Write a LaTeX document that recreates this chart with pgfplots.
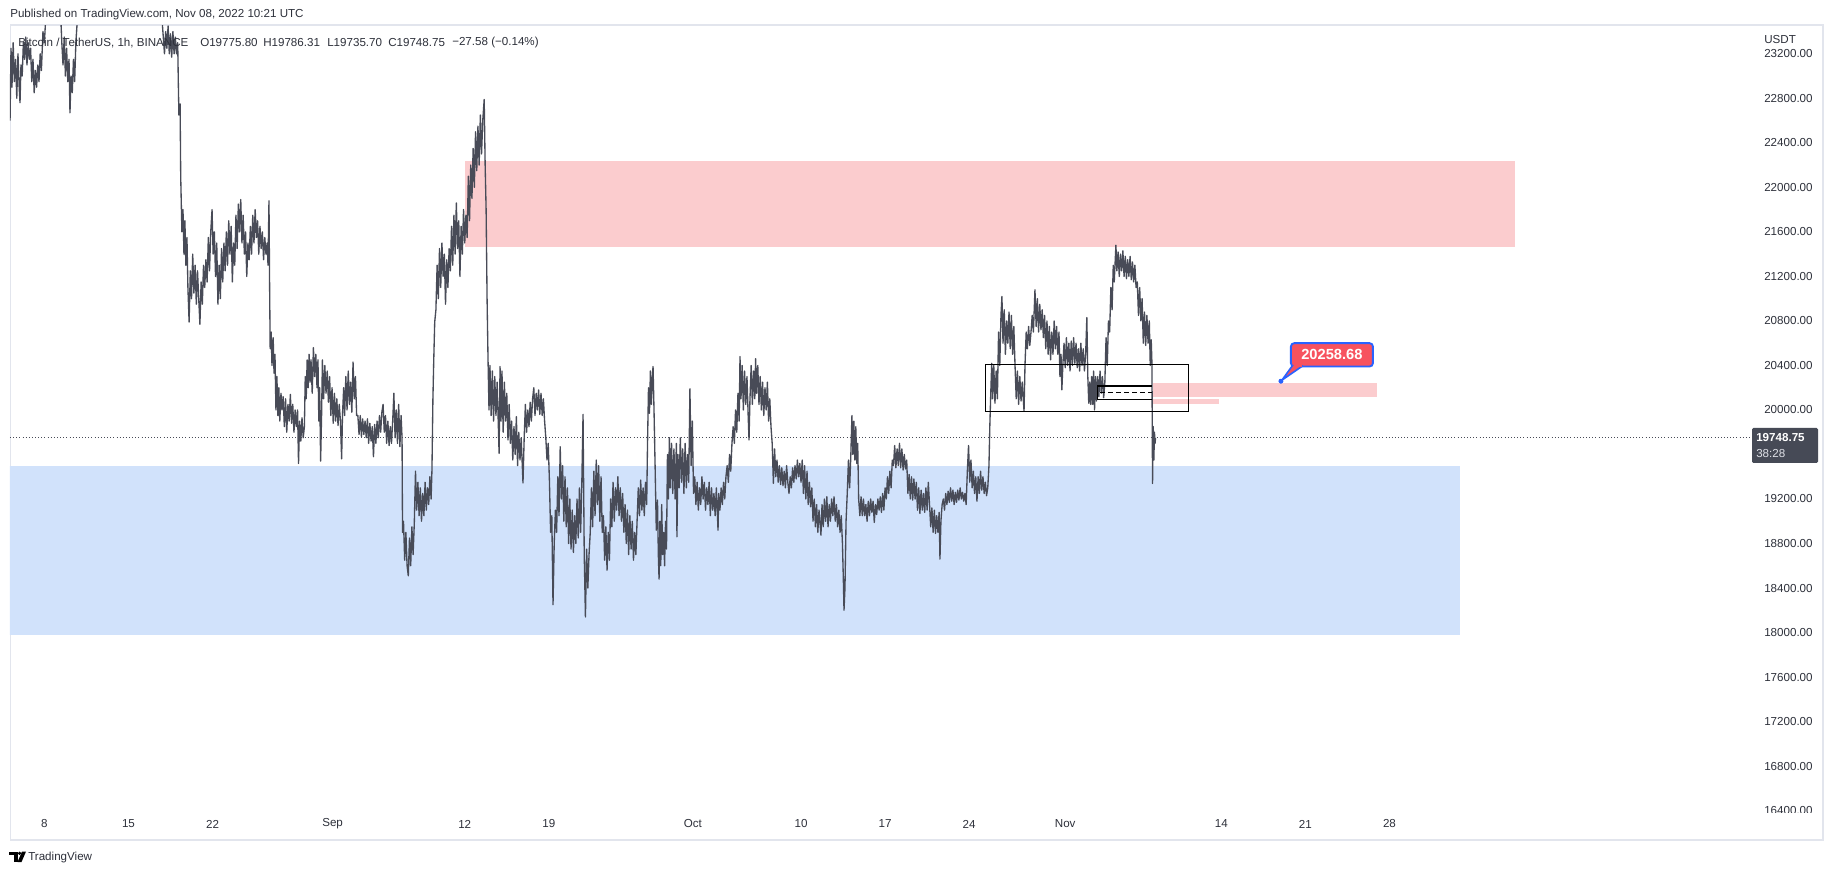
\documentclass[border=0pt]{standalone}
\usepackage{fontspec}
\setmainfont{Liberation Sans}
\usepackage{pgfplots}
\pgfplotsset{compat=1.18}
\definecolor{candle}{RGB}{72,75,87}
\definecolor{zblue}{RGB}{209,226,251}
\definecolor{zred}{RGB}{251,204,206}
\definecolor{lblred}{RGB}{247,82,95}
\definecolor{tvblue}{RGB}{41,98,255}
\definecolor{txt}{RGB}{45,48,58}
\definecolor{framec}{RGB}{226,229,237}
\definecolor{plabel}{RGB}{70,74,86}
\newcommand{\tvfont}{\fontsize{8.7}{10}\selectfont}
\begin{document}
\begin{tikzpicture}
\useasboundingbox (0,0) rectangle (1375.5pt,656.25pt);
\fill[white] (0,0) rectangle (1375.5pt,656.25pt);
\begin{scope}[yshift=656.25pt, x=0.75pt, y=-0.75pt]
 \draw[framec, line width=1.2pt] (10.5,25) rectangle (1823,840);
 \node[anchor=west, inner sep=0pt, font=\tvfont, text=txt] at (10,15) {Published on TradingView.com, Nov 08, 2022 10:21 UTC};
\end{scope}
\begin{axis}[
  at={(7.5pt,47.25pt)}, anchor=south west, scale only axis,
  width=1305.75pt, height=589.5pt,
  xmin=-2.864, xmax=142.1, ymin=16387.5, ymax=23450,
  axis line style={draw=none}, major tick length=0pt,
  scaled x ticks=false, scaled y ticks=false,
  xtick={0,7,14,24,35,42,54,63,70,77,85,98,105,112},
  xticklabels={8,15,22,Sep,12,19,Oct,10,17,24,Nov,14,21,28},
  ytick={16400,16800,17200,17600,18000,18400,18800,19200,20000,20400,20800,21200,21600,22000,22400,22800,23200},
  yticklabels={16400.00,16800.00,17200.00,17600.00,18000.00,18400.00,18800.00,19200.00,20000.00,20400.00,20800.00,21200.00,21600.00,22000.00,22400.00,22800.00,23200.00},
  yticklabel pos=right,
  tick label style={font=\tvfont, text=txt},
  yticklabel style={anchor=west, inner sep=0pt, xshift=9.75pt},
  xticklabel style={anchor=center, inner sep=0pt, yshift=-9pt},
]
% zones
\addplot[draw=none, fill=zblue] coordinates {(-5,17977) (117.85,17977) (117.85,19497) (-5,19497)};
\addplot[draw=none, fill=zred] coordinates {(35.06,21466) (122.43,21466) (122.43,22233) (35.06,22233)};
\addplot[draw=none, fill=zred] coordinates {(92.29,20116) (110.97,20116) (110.97,20242) (92.29,20242)};
\addplot[draw=none, fill=zred] coordinates {(92.29,20054) (97.8,20054) (97.8,20096) (92.29,20096)};
% last price line
\addplot[candle, line width=0.7pt, dash pattern=on 0.75pt off 1.6pt] coordinates {(-2.864,19748.75) (142.1,19748.75)};
% price (1h candles, traced as low/high zigzag)
\addplot[candle, line width=1.0pt, line join=round] coordinates {
(-2.86,22600) (-2.78,23250) (-2.70,22900) (-2.60,23300) (-2.50,22950) (-2.40,23150) (-2.30,22800) (-2.20,23200) (-2.10,22900) (-2.03,22760)
(-1.95,23100) (-1.85,23000) (-1.75,23300) (-1.65,23150) (-1.55,23350) (-1.45,23100) (-1.35,23300) (-1.25,23150) (-1.15,23250) (-1.05,22950)
(-0.95,23150) (-0.85,22850) (-0.75,23050) (-0.65,22900) (-0.55,23100) (-0.45,22950) (-0.35,23200) (-0.25,23050) (-0.12,23400) (0.00,23300)
(0.15,23600) (0.30,23500) (0.47,23800) (0.70,24000) (0.90,23900) (1.10,24100) (1.30,23700) (1.45,23300) (1.55,23100) (1.65,23350)
(1.75,23000) (1.85,23250) (1.95,22950) (2.05,23150) (2.13,22670) (2.22,23000) (2.32,22850) (2.42,23150) (2.52,22950) (2.62,23300)
(2.71,23450) (2.80,23700) (3.00,24200) (3.30,24700) (3.60,24500) (4.00,24900) (4.50,24600) (5.00,24300) (5.50,24500) (6.00,24200)
(6.50,24800) (7.00,25000) (7.50,24300) (8.00,24000) (8.50,23800) (9.00,23900) (9.50,23600) (9.80,23500)
(9.90,23350) (10.00,23200) (10.10,23400) (10.20,23250) (10.30,23450) (10.40,23200) (10.50,23380) (10.60,23170) (10.70,23400) (10.80,23200)
(10.90,23350) (11.00,23200) (11.10,23300) (11.15,22950) (11.20,22650) (11.30,22750) (11.35,22100) (11.45,21600) (11.54,21800) (11.62,21400)
(11.70,21700) (11.78,21300) (11.87,21550) (11.95,21100) (12.05,20790) (12.15,21250) (12.25,21000) (12.35,21400) (12.45,21050) (12.55,21300)
(12.65,20950) (12.75,21250) (12.85,21000) (12.95,20770) (13.05,21150) (13.15,20950) (13.25,21300) (13.35,21100) (13.45,21350) (13.55,21150)
(13.65,21550) (13.75,21250) (13.85,21600) (13.96,21800) (14.05,21400) (14.15,21600) (14.25,21200) (14.35,21500) (14.45,20950) (14.55,21300)
(14.65,21000) (14.75,21450) (14.85,21150) (14.95,21500) (15.05,21250) (15.15,21600) (15.25,21300) (15.35,21700) (15.45,21400) (15.55,21650)
(15.65,21150) (15.75,21500) (15.85,21300) (15.95,21750) (16.05,21450) (16.15,21850) (16.25,21600) (16.35,21890) (16.45,21500) (16.55,21750)
(16.65,21400) (16.75,21600) (16.85,21200) (16.95,21500) (17.05,21350) (17.15,21650) (17.25,21400) (17.35,21750) (17.45,21500) (17.55,21800)
(17.65,21550) (17.75,21700) (17.85,21400) (17.95,21650) (18.05,21450) (18.15,21600) (18.25,21350) (18.35,21550) (18.45,21400) (18.55,21500)
(18.62,21300) (18.70,21880) (18.75,21150) (18.80,20550) (18.88,20700) (18.95,20400) (19.05,20650) (19.12,20330) (19.20,20500) (19.28,20000)
(19.36,20300) (19.44,19950) (19.52,20200) (19.60,19900) (19.70,20150) (19.78,20000) (19.88,20120) (19.98,19850) (20.08,20100) (20.18,19800)
(20.28,20050) (20.38,19900) (20.48,20140) (20.58,19880) (20.68,20050) (20.78,19800) (20.88,20000) (20.98,19850) (21.08,20000) (21.16,19520)
(21.25,19900) (21.35,19720) (21.45,19930) (21.55,19750) (21.65,19850) (21.72,20300) (21.80,20100) (21.88,20450) (21.96,20200) (22.04,20500)
(22.12,20250) (22.20,20450) (22.30,20150) (22.40,20560) (22.50,20300) (22.60,20500) (22.70,20200) (22.78,20450) (22.85,19900) (22.92,20200)
(23.00,19540) (23.08,19950) (23.15,20450) (23.25,20100) (23.35,20400) (23.45,20150) (23.55,20350) (23.65,20070) (23.75,20300) (23.85,19950)
(23.95,20200) (24.05,19880) (24.15,20150) (24.25,19900) (24.35,20100) (24.45,19860) (24.55,20050) (24.65,19900) (24.75,19560) (24.82,19950)
(24.92,20200) (25.00,19950) (25.10,20300) (25.20,20000) (25.30,20350) (25.40,20050) (25.50,20250) (25.60,19980) (25.70,20430) (25.80,20100)
(25.90,20300) (26.00,19950) (26.10,19950) (26.20,19780) (26.30,19950) (26.40,19760) (26.50,19920) (26.60,19780) (26.70,19900) (26.80,19750)
(26.90,19920) (27.00,19700) (27.10,19880) (27.20,19720) (27.30,19850) (27.40,19580) (27.50,19870) (27.60,19700) (27.70,19900) (27.80,19750)
(27.90,19950) (28.00,19800) (28.10,19980) (28.20,20050) (28.30,19800) (28.40,19950) (28.50,19700) (28.60,19900) (28.70,19680) (28.80,19850)
(28.90,19700) (29.00,19900) (29.10,20150) (29.20,19750) (29.30,20000) (29.40,19700) (29.50,20050) (29.60,19670) (29.70,19950) (29.78,19750)
(29.82,18900) (29.90,19000) (30.00,18650) (30.10,18900) (30.20,18600) (30.30,18510) (30.40,18850) (30.50,18600) (30.60,18950) (30.70,18700)
(30.80,18980) (30.90,19450) (31.00,19100) (31.10,19350) (31.20,19050) (31.30,19300) (31.40,19000) (31.50,19250) (31.60,19050) (31.70,19350)
(31.80,19100) (31.90,19300) (32.00,19150) (32.10,19400) (32.20,19200) (32.27,19460) (32.35,20100) (32.42,20450) (32.50,20790) (32.60,20900)
(32.70,21300) (32.80,21000) (32.90,21450) (33.00,21100) (33.10,21500) (33.20,21200) (33.30,21400) (33.40,20950) (33.50,21350) (33.60,21100)
(33.70,21450) (33.80,21250) (33.90,21650) (34.00,21300) (34.10,21750) (34.20,21400) (34.30,21860) (34.40,21450) (34.50,21700) (34.60,21200)
(34.70,21650) (34.80,21400) (34.90,21800) (35.00,21500) (35.10,21750) (35.20,21550) (35.30,22100) (35.40,21700) (35.50,22200) (35.60,21900)
(35.70,22350) (35.80,22000) (35.90,22500) (36.00,22150) (36.10,22550) (36.20,22200) (36.30,22650) (36.40,22300) (36.50,22600) (36.62,22790)
(36.70,22200) (36.78,21800) (36.86,21000) (36.94,20450) (37.02,20000) (37.10,20400) (37.20,19950) (37.30,20350) (37.40,19900) (37.50,20300)
(37.60,19950) (37.70,20250) (37.86,19610) (37.94,20390) (38.02,19900) (38.10,20350) (38.20,19800) (38.30,20250) (38.40,19900) (38.50,20150)
(38.60,19730) (38.70,20050) (38.80,19700) (38.90,19900) (39.00,19550) (39.10,19850) (39.20,19600) (39.30,19940) (39.40,19500) (39.50,19800)
(39.60,19550) (39.70,19750) (39.85,19345) (39.95,19750) (40.05,20050) (40.15,19800) (40.25,20000) (40.35,19850) (40.45,20070) (40.55,19900)
(40.65,20100) (40.75,20200) (40.85,19950) (40.95,20150) (41.05,20000) (41.15,20180) (41.25,19960) (41.35,20150) (41.45,19950) (41.55,20100)
(41.65,19900) (41.75,19750) (41.85,19550) (41.95,19700) (42.05,19370) (42.15,18900) (42.25,19050) (42.35,18250) (42.45,18800) (42.55,19100)
(42.65,18900) (42.75,19400) (42.85,19050) (42.95,19670) (43.05,19200) (43.15,19500) (43.25,19000) (43.35,19400) (43.45,18950) (43.55,19300)
(43.65,18800) (43.75,19200) (43.85,18750) (43.95,19100) (44.05,18720) (44.15,19050) (44.25,18800) (44.35,19200) (44.45,18850) (44.55,19300)
(44.65,18900) (44.75,19350) (44.85,19960) (44.95,18700) (45.05,18140) (45.15,18750) (45.25,18400) (45.35,18700) (45.45,18900) (45.55,19300)
(45.65,18950) (45.75,19450) (45.85,19050) (45.95,19550) (46.05,19150) (46.15,19500) (46.25,19000) (46.35,19400) (46.45,18900) (46.55,19050)
(46.65,18650) (46.75,18950) (46.85,18560) (46.95,18900) (47.05,18650) (47.15,19200) (47.25,18950) (47.35,19350) (47.45,19000) (47.55,19300)
(47.65,19100) (47.75,19400) (47.85,19050) (47.95,19300) (48.05,19000) (48.15,19250) (48.25,18900) (48.35,19150) (48.45,18800) (48.55,19100)
(48.65,18700) (48.75,19050) (48.85,18750) (48.95,19000) (49.05,18650) (49.15,18900) (49.25,18700) (49.35,19000) (49.45,19300) (49.55,19050)
(49.65,19370) (49.75,19100) (49.85,19300) (49.95,19050) (50.05,19350) (50.15,19150) (50.22,19700) (50.30,20200) (50.38,19970) (50.46,20350)
(50.54,20050) (50.62,20300) (50.68,20390) (50.76,20000) (50.85,19500) (50.95,18920) (51.05,19190) (51.12,18700) (51.18,18480) (51.25,19000)
(51.32,18600) (51.40,19150) (51.48,18700) (51.56,18900) (51.64,18600) (51.72,19000) (51.80,18750) (51.88,19600) (51.96,19200) (52.04,19750)
(52.12,19300) (52.22,19700) (52.32,19250) (52.42,19650) (52.52,19200) (52.62,19700) (52.67,18860) (52.75,19600) (52.85,19300) (52.95,19750)
(53.05,19350) (53.15,19650) (53.25,19250) (53.35,19700) (53.45,19300) (53.55,19600) (53.65,19350) (53.75,20190) (53.85,19500) (53.95,19900)
(54.05,19250) (54.15,19400) (54.25,19150) (54.35,19350) (54.45,19100) (54.55,19300) (54.65,19150) (54.75,19400) (54.85,19200) (54.95,19350)
(55.05,19100) (55.15,19300) (55.25,19150) (55.35,19350) (55.45,19050) (55.55,19300) (55.65,19100) (55.75,19250) (55.85,19050) (55.95,19300)
(56.09,18920) (56.15,19250) (56.25,19100) (56.35,19300) (56.45,19150) (56.55,19350) (56.65,19200) (56.75,19400) (56.85,19500) (56.95,19350)
(57.05,19600) (57.15,19450) (57.25,19700) (57.35,19850) (57.45,19700) (57.55,20000) (57.65,19800) (57.75,20150) (57.85,19900) (57.92,20480)
(58.00,20100) (58.10,20400) (58.20,20000) (58.30,20350) (58.40,20050) (58.50,20300) (58.60,19950) (58.67,19730) (58.75,20100) (58.85,20400)
(58.95,20050) (59.05,20350) (59.15,20100) (59.22,20460) (59.30,20150) (59.40,20400) (59.50,20050) (59.60,20300) (59.70,20000) (59.80,20250)
(59.90,19950) (60.00,20200) (60.10,20000) (60.20,20250) (60.30,19900) (60.40,20100) (60.50,19850) (60.60,19700) (60.70,19340) (60.80,19650)
(60.90,19400) (61.00,19550) (61.10,19350) (61.20,19500) (61.30,19330) (61.40,19480) (61.50,19320) (61.60,19450) (61.70,19300) (61.80,19500)
(61.90,19350) (62.00,19250) (62.10,19400) (62.20,19300) (62.30,19480) (62.40,19350) (62.50,19500) (62.60,19380) (62.70,19550) (62.80,19400)
(62.90,19520) (63.00,19350) (63.10,19550) (63.20,19250) (63.30,19500) (63.40,19200) (63.50,19450) (63.60,19150) (63.70,19350) (63.80,19130)
(63.90,19300) (64.00,19000) (64.10,19200) (64.20,18950) (64.30,19150) (64.40,18900) (64.50,19100) (64.66,18875) (64.75,19150) (64.85,18950)
(64.95,19200) (65.05,19000) (65.15,19220) (65.25,18950) (65.35,19150) (65.45,19000) (65.55,19200) (65.65,19050) (65.75,19220) (65.85,19000)
(65.95,19150) (66.05,18950) (66.15,19100) (66.25,18900) (66.35,19050) (66.45,18800) (66.52,18500) (66.58,18200) (66.66,18400) (66.75,19000)
(66.85,19250) (66.95,19550) (67.05,19300) (67.15,19600) (67.24,19950) (67.32,19600) (67.40,19900) (67.48,19550) (67.56,19850) (67.64,19520)
(67.72,19700) (67.80,19200) (67.90,19050) (68.00,19220) (68.10,19050) (68.20,19200) (68.30,19050) (68.40,19150) (68.50,19000) (68.60,19180)
(68.70,19050) (68.80,19200) (68.90,19080) (69.00,19180) (69.10,18990) (69.20,19150) (69.30,19060) (69.40,19200) (69.50,19100) (69.60,19220)
(69.70,19080) (69.80,19250) (69.90,19100) (70.00,19300) (70.10,19200) (70.20,19400) (70.30,19250) (70.40,19450) (70.50,19300) (70.60,19550)
(70.70,19500) (70.80,19680) (70.90,19480) (71.00,19650) (71.10,19500) (71.20,19700) (71.30,19480) (71.40,19650) (71.50,19460) (71.60,19600)
(71.70,19470) (71.80,19550) (71.90,19250) (72.00,19420) (72.10,19200) (72.20,19400) (72.30,19190) (72.40,19380) (72.50,19200) (72.60,19350)
(72.70,19100) (72.80,19300) (72.90,19070) (73.00,19280) (73.10,19100) (73.20,19250) (73.30,19080) (73.40,19300) (73.50,19100) (73.60,19350)
(73.70,19150) (73.80,18950) (73.90,19120) (74.00,18900) (74.10,19100) (74.20,18890) (74.30,19050) (74.40,18900) (74.50,19080) (74.57,18660)
(74.65,19000) (74.75,19150) (74.85,19200) (74.95,19100) (75.05,19250) (75.15,19150) (75.25,19270) (75.35,19170) (75.45,19300) (75.55,19180)
(75.65,19280) (75.75,19150) (75.85,19260) (75.95,19170) (76.05,19280) (76.15,19190) (76.25,19300) (76.35,19200) (76.45,19260) (76.55,19180)
(76.65,19250) (76.75,19150) (76.85,19450) (76.95,19680) (77.05,19350) (77.15,19550) (77.25,19300) (77.35,19450) (77.45,19250) (77.55,19400)
(77.65,19180) (77.75,19400) (77.85,19250) (77.95,19450) (78.05,19280) (78.15,19400) (78.25,19250) (78.35,19350) (78.45,19230) (78.55,19300)
(78.65,19500) (78.72,19850) (78.80,20150) (78.88,20420) (78.95,20100) (79.05,20400) (79.15,20060) (79.25,20350) (79.35,20100) (79.45,20700)
(79.55,20400) (79.65,20850) (79.73,21020) (79.82,20600) (79.92,20900) (80.02,20500) (80.12,20800) (80.22,20600) (80.32,20880) (80.42,20550)
(80.52,20850) (80.62,20500) (80.72,20750) (80.82,20400) (80.92,20100) (81.02,20350) (81.12,20050) (81.22,20300) (81.32,20080) (81.42,20250)
(81.57,19990) (81.65,20400) (81.75,20700) (81.85,20550) (81.95,20750) (82.05,20580) (82.15,20700) (82.25,20850) (82.35,20700) (82.48,21080)
(82.58,20750) (82.68,21000) (82.78,20700) (82.88,20950) (82.98,20720) (83.08,20900) (83.18,20650) (83.28,20850) (83.38,20550) (83.48,20800)
(83.58,20500) (83.68,20750) (83.78,20450) (83.88,20700) (83.98,20500) (84.08,20800) (84.18,20550) (84.28,20750) (84.38,20500) (84.48,20700)
(84.56,20300) (84.65,20500) (84.72,20180) (84.80,20400) (84.90,20600) (85.00,20380) (85.10,20650) (85.20,20400) (85.30,20600) (85.40,20350)
(85.50,20620) (85.60,20400) (85.70,20650) (85.80,20420) (85.90,20600) (86.00,20380) (86.10,20550) (86.20,20350) (86.30,20600) (86.40,20400)
(86.50,20550) (86.60,20350) (86.70,20500) (86.80,20830) (86.88,20300) (86.96,20060) (87.04,20250) (87.12,20050) (87.20,20300) (87.28,20050)
(87.36,20350) (87.44,20000) (87.52,20300) (87.60,20080) (87.70,20300) (87.80,20120) (87.90,20350) (88.00,20150) (88.10,20300) (88.20,20110)
(88.30,20250) (88.40,20650) (88.50,20400) (88.60,20800) (88.70,20700) (88.80,21100) (88.90,20900) (89.00,21300) (89.08,21150) (89.22,21480)
(89.30,21250) (89.40,21420) (89.50,21200) (89.60,21400) (89.70,21250) (89.80,21430) (89.90,21200) (90.00,21380) (90.10,21180) (90.20,21350)
(90.30,21200) (90.40,21380) (90.50,21170) (90.60,21330) (90.70,21150) (90.80,21300) (90.90,21100) (91.00,21150) (91.10,20850) (91.20,21100)
(91.30,20800) (91.40,21000) (91.50,20600) (91.60,20880) (91.70,20580) (91.80,20850) (91.90,20600) (92.00,20800) (92.08,20400) (92.16,20630)
(92.22,20420) (92.27,19340) (92.33,19850) (92.38,19550) (92.43,19800) (92.48,19700) (92.52,19748.75)
};
% drawings
\addplot[black, line width=1.1pt] coordinates {(78.34,19988) (95.28,19988) (95.28,20410) (78.34,20410) (78.34,19988)};
\addplot[black, line width=1.1pt] coordinates {(92.25,20096) (87.70,20096) (87.70,20215) (92.25,20215)};
\addplot[black, line width=1.1pt, dash pattern=on 3.5pt off 2.5pt] coordinates {(87.90,20159) (92.25,20159)};
\coordinate (P) at (axis cs:102.96,20258.68);
\addplot[only marks, mark=*, mark size=1.6pt, color=tvblue] coordinates {(102.96,20258.68)};
\end{axis}
% callout label
\filldraw[fill=lblred, draw=tvblue, line width=1.4pt, rounded corners=2.5pt] ([shift={(7.5pt,11pt)}]P) rectangle ([shift={(69pt,28.5pt)}]P);
\filldraw[fill=lblred, draw=tvblue, line width=1.2pt, line join=round] ([shift={(8.6pt,11.6pt)}]P) -- ([shift={(0.8pt,0.8pt)}]P) -- ([shift={(16.5pt,11.6pt)}]P);
\fill[lblred] ([shift={(9.6pt,10.4pt)}]P) rectangle ([shift={(15.8pt,12.2pt)}]P);
\node[text=white, inner sep=0pt, font=\bfseries\fontsize{11}{12}\selectfont] at ([shift={(38.25pt,19.75pt)}]P) {20258.68};
\fill[tvblue] (P) circle (1.6pt);
\begin{scope}[yshift=656.25pt, x=0.75pt, y=-0.75pt]
 % cover the clipped bottom price label
 \fill[white] (1752,812.5) rectangle (1822,839);
 % header
 \node[anchor=west, inner sep=0pt, font=\tvfont, text=txt] at (18,43) {Bitcoin / TetherUS, 1h, BINANCE};
 \node[anchor=west, inner sep=0pt, font=\tvfont, text=txt] at (200,43) {O19775.80};
 \node[anchor=west, inner sep=0pt, font=\tvfont, text=txt] at (263,43) {H19786.31};
 \node[anchor=west, inner sep=0pt, font=\tvfont, text=txt] at (327,43) {L19735.70};
 \node[anchor=west, inner sep=0pt, font=\tvfont, text=txt] at (388,43) {C19748.75};
 \node[anchor=west, inner sep=0pt, font=\tvfont, text=txt] at (452,43) {−27.58 (−0.14\%)};
 \node[anchor=west, inner sep=0pt, font=\tvfont, text=txt] at (1764,40) {USDT};
 % last price label
 \fill[plabel, rounded corners=1pt] (1752,428) rectangle (1818,463);
 \node[anchor=west, inner sep=0pt, text=white, font=\bfseries\tvfont] at (1756,438) {19748.75};
 \node[anchor=west, inner sep=0pt, text={rgb,255:red,222;green,224;blue,230}, font=\tvfont] at (1756,454) {38:28};
 % TradingView logo
 \fill[black] (9,851.5) rectangle (17.5,855);
 \fill[black] (14,851.5) rectangle (17.5,862);
 \fill[black] (19.6,853.3) circle (1.8);
 \fill[black] (22,851.5) -- (26,851.5) -- (21.5,862) -- (17.5,862) -- cycle;
 \node[anchor=west, inner sep=0pt, font=\tvfont, text=txt] at (28,857) {TradingView};
\end{scope}
\end{tikzpicture}
\end{document}
